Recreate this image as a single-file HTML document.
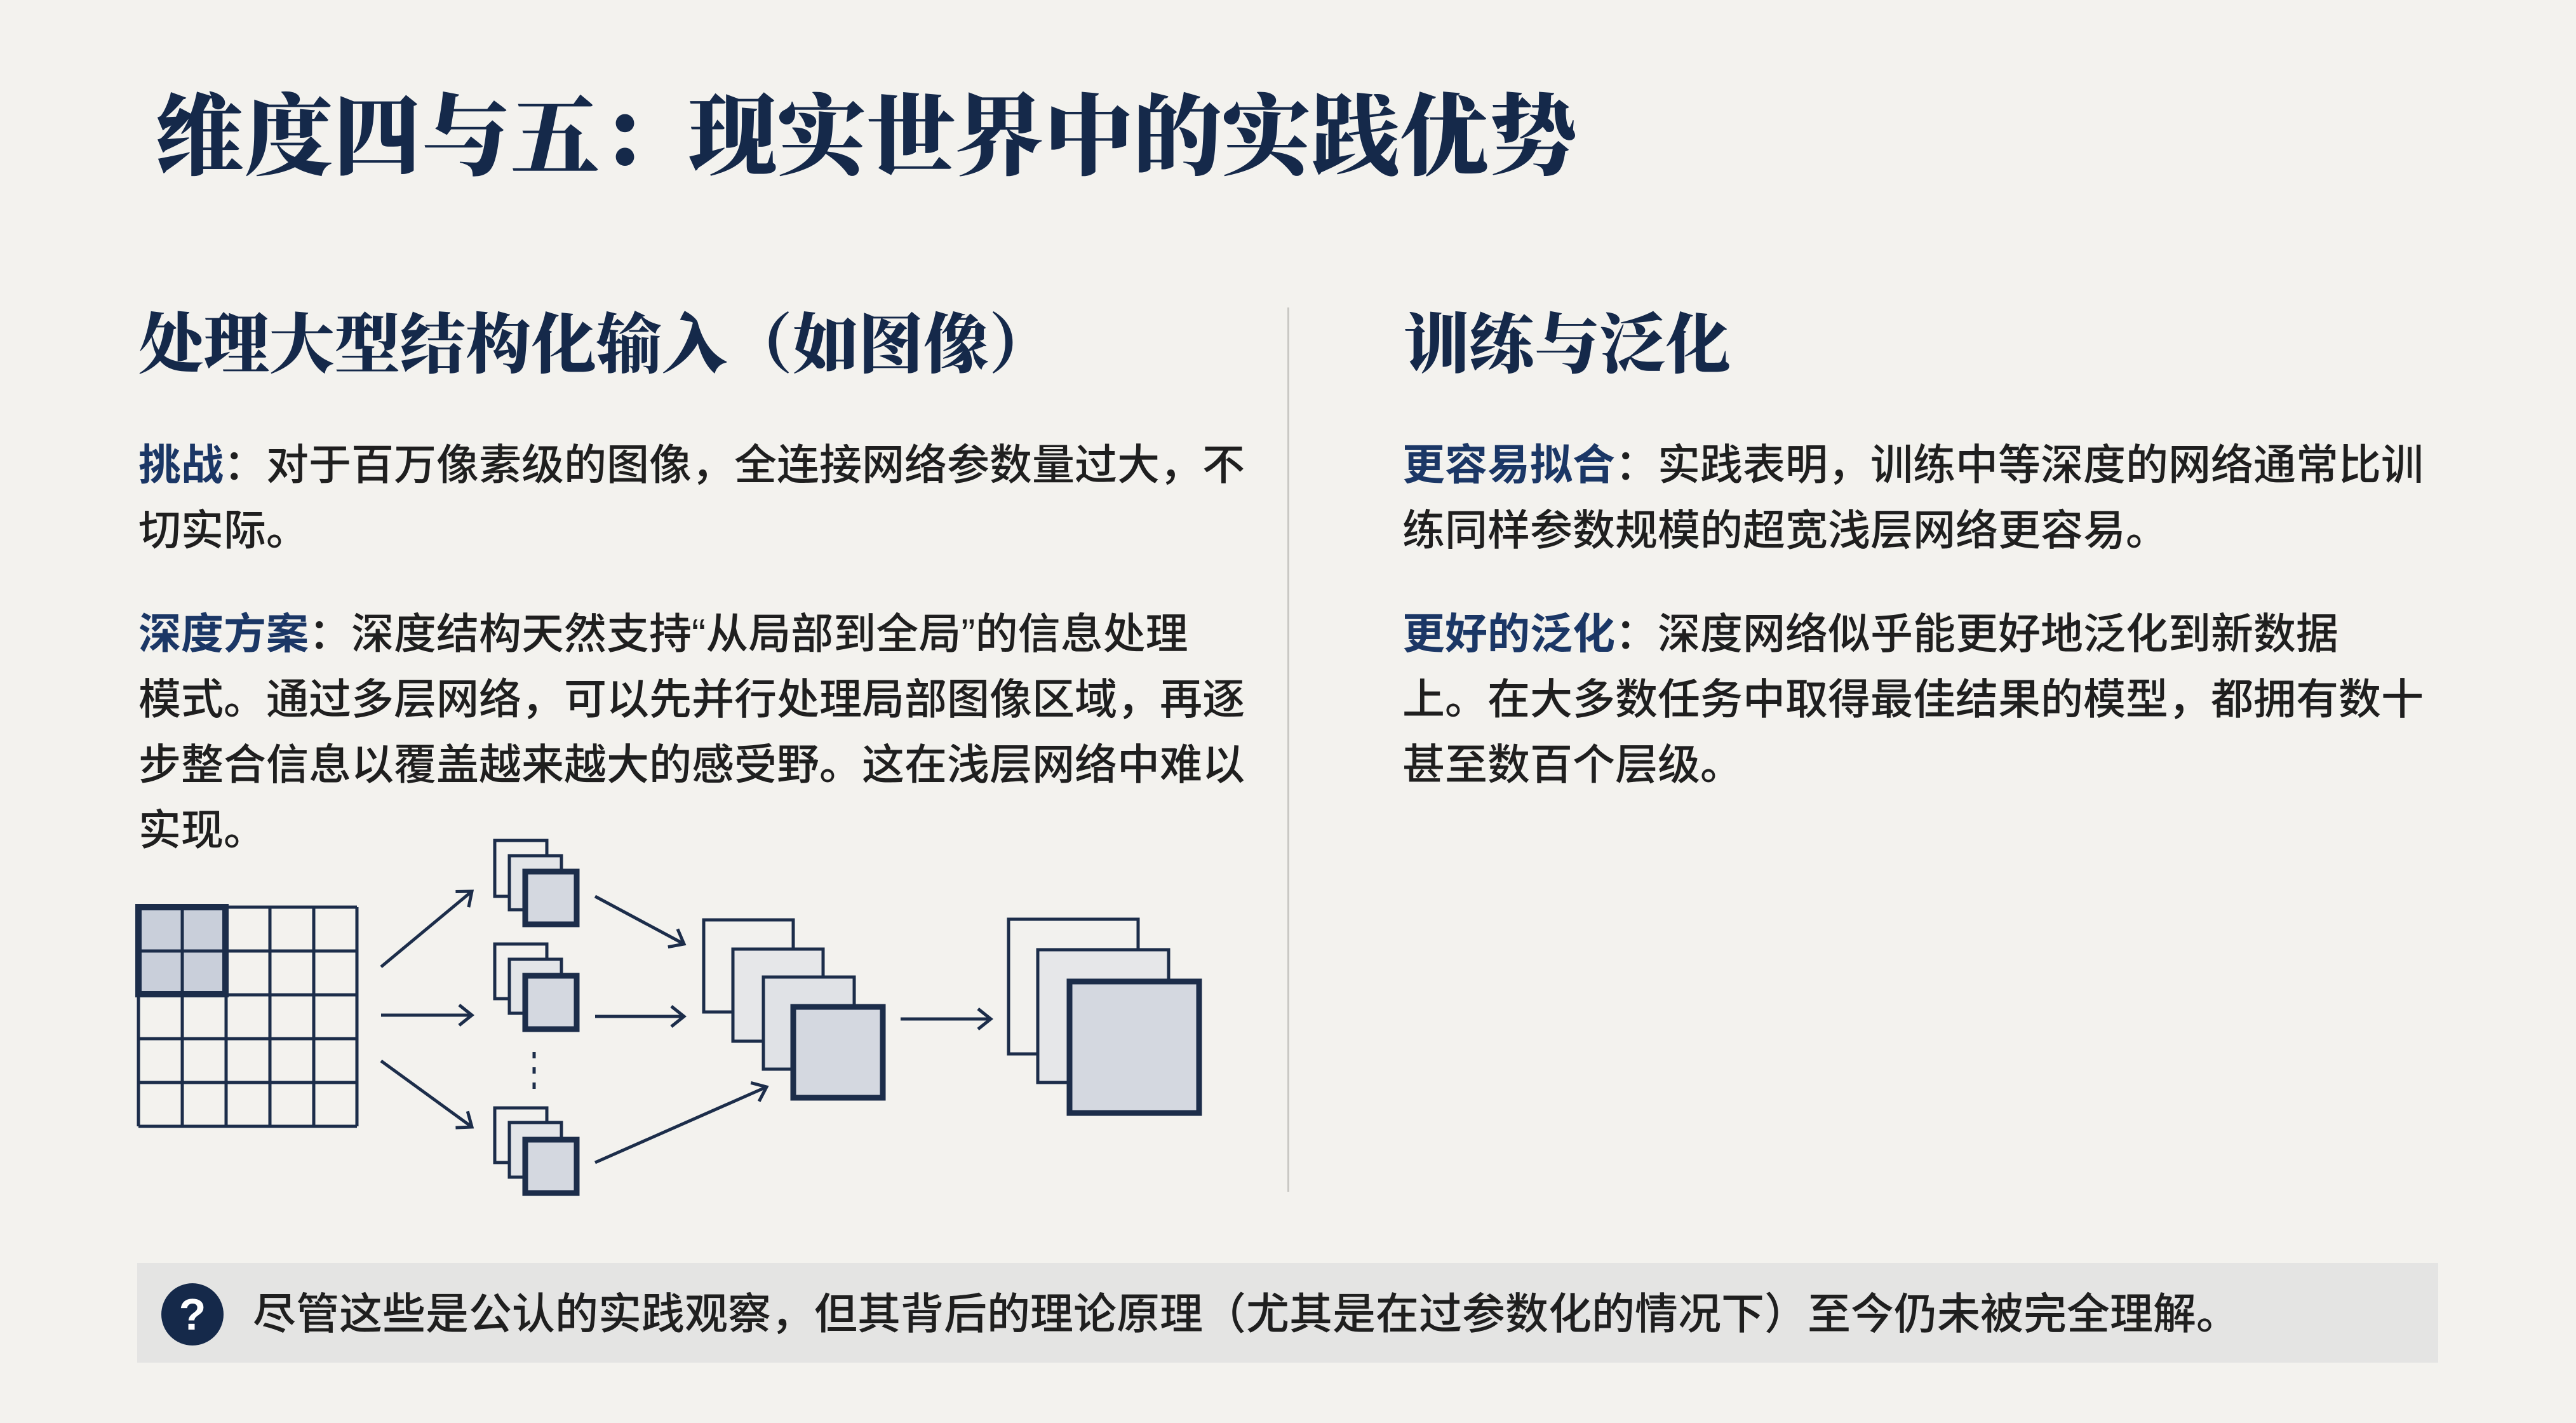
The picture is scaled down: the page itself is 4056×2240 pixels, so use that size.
<!DOCTYPE html>
<html><head><meta charset="utf-8"><style>
html,body{margin:0;padding:0}
body{width:4056px;height:2240px;background:#f3f2ee;position:relative;overflow:hidden;font-family:"Liberation Sans","Noto Sans CJK SC",sans-serif}
.t{position:absolute;white-space:nowrap}
.title{left:244px;top:136px;font-size:140px;line-height:164px;font-family:"Liberation Serif","Noto Serif CJK SC",serif;font-weight:900;color:#15294a}
.h{font-size:103px;line-height:126px;top:481px;font-family:"Liberation Serif","Noto Serif CJK SC",serif;font-weight:900;color:#15294a}
.b{font-size:67px;line-height:103px;color:#1f1f1f;font-weight:500}
.b b{color:#1b3766;font-weight:700}
</style></head><body>
<div class="t title">维度四与五：现实世界中的实践优势</div>
<div class="t h" style="left:218px">处理大型结构化输入（如图像）</div>
<div class="t h" style="left:2210px">训练与泛化</div>
<div style="position:absolute;left:2027px;top:484px;width:3px;height:1392px;background:#c9c8c4"></div>

<div class="t b" style="left:218px;top:681px"><b>挑战</b>：对于百万像素级的图像，全连接网络参数量过大，不<br>切实际。</div>
<div class="t b" style="left:218px;top:947px"><b>深度方案</b>：深度结构天然支持“从局部到全局”的信息处理<br>模式。通过多层网络，可以先并行处理局部图像区域，再逐<br>步整合信息以覆盖越来越大的感受野。这在浅层网络中难以<br>实现。</div>
<div class="t b" style="left:2208px;top:681px"><b>更容易拟合</b>：实践表明，训练中等深度的网络通常比训<br>练同样参数规模的超宽浅层网络更容易。</div>
<div class="t b" style="left:2208px;top:947px"><b>更好的泛化</b>：深度网络似乎能更好地泛化到新数据<br>上。在大多数任务中取得最佳结果的模型，都拥有数十<br>甚至数百个层级。</div>

<svg style="position:absolute;left:0;top:0" width="4056" height="2240">
<defs>
<marker id="m" markerWidth="30" markerHeight="40" refX="26" refY="20" orient="auto" markerUnits="userSpaceOnUse"><path d="M6,4 L26,20 L6,36" fill="none" stroke="#1c2d4a" stroke-width="5"/></marker></defs>
<g stroke="#1c2d4a" fill="none">
<rect x="218" y="1428" width="137" height="137" fill="#c9cfda" stroke="none"/>
<g stroke-width="5">
<line x1="218" y1="1428" x2="562" y2="1428"/><line x1="218" y1="1497" x2="562" y2="1497"/><line x1="218" y1="1566" x2="562" y2="1566"/><line x1="218" y1="1635" x2="562" y2="1635"/><line x1="218" y1="1704" x2="562" y2="1704"/><line x1="218" y1="1773" x2="562" y2="1773"/>
<line x1="218" y1="1428" x2="218" y2="1773"/><line x1="287" y1="1428" x2="287" y2="1773"/><line x1="356" y1="1428" x2="356" y2="1773"/><line x1="425" y1="1428" x2="425" y2="1773"/><line x1="494" y1="1428" x2="494" y2="1773"/><line x1="562" y1="1428" x2="562" y2="1773"/>
</g>
<rect x="218" y="1428" width="137" height="137" stroke-width="10"/>

<g stroke-width="5">
<rect x="779" y="1323" width="82" height="88" fill="#f2f1ee"/><rect x="802" y="1347" width="82" height="85" fill="#e3e5e8"/>
<rect x="779" y="1486" width="82" height="86" fill="#f2f1ee"/><rect x="802" y="1510" width="82" height="85" fill="#e3e5e8"/>
<rect x="779" y="1744" width="82" height="86" fill="#f2f1ee"/><rect x="802" y="1767" width="82" height="86" fill="#e3e5e8"/>
<rect x="1108" y="1448" width="141" height="145" fill="#f2f1ee"/><rect x="1154" y="1494" width="142" height="145" fill="#e6e7e9"/><rect x="1202" y="1538" width="143" height="145" fill="#e0e2e6"/>
<rect x="1588" y="1447" width="204" height="212" fill="#f2f1ee"/><rect x="1634" y="1495" width="206" height="209" fill="#e6e7e9"/>
</g>
<g stroke-width="9" fill="#d4d8e0">
<rect x="827" y="1372" width="81" height="83"/><rect x="827" y="1536" width="81" height="84"/><rect x="827" y="1794" width="81" height="84"/>
<rect x="1249" y="1585" width="141" height="143"/><rect x="1684" y="1545" width="204" height="207"/>
</g>
<line x1="841" y1="1656" x2="841" y2="1716" stroke-width="5" stroke-dasharray="10 14"/>
<g stroke-width="5" marker-end="url(#m)">
<line x1="600" y1="1522" x2="743" y2="1403"/>
<line x1="600" y1="1598" x2="743" y2="1598"/>
<line x1="600" y1="1670" x2="743" y2="1774"/>
<line x1="937" y1="1411" x2="1077" y2="1486"/>
<line x1="937" y1="1600" x2="1077" y2="1600"/>
<line x1="937" y1="1830" x2="1207" y2="1711"/>
<line x1="1418" y1="1604" x2="1560" y2="1604"/>
</g>
</g>
</svg>

<div style="position:absolute;left:216px;top:1988px;width:3623px;height:157px;background:#e4e4e3"></div>
<div style="position:absolute;left:254px;top:2020px;width:98px;height:98px;border-radius:50%;background:#15294a;color:#fff;font-size:70px;line-height:98px;text-align:center;font-weight:700">?</div>
<div class="t" style="left:398px;top:2020px;font-size:68px;line-height:98px;color:#1f1f1f;font-weight:500">尽管这些是公认的实践观察，但其背后的理论原理（尤其是在过参数化的情况下）至今仍未被完全理解。</div>
</body></html>
